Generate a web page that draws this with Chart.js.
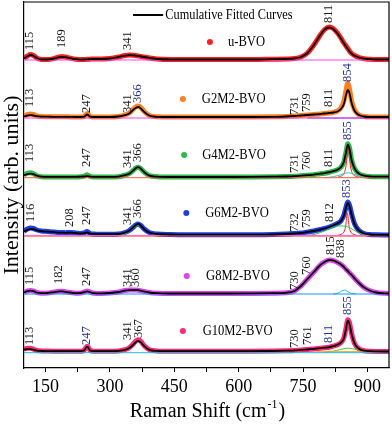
<!DOCTYPE html>
<html>
<head>
<meta charset="utf-8">
<script src="https://cdn.jsdelivr.net/npm/chart.js@4.4.1/dist/chart.umd.min.js"></script>
<style>
  html, body { margin: 0; padding: 0; background: #fff; }
  canvas { display: block; }
</style>
</head>
<body>
<canvas id="raman" width="392" height="424"></canvas>
<script>
// Raman shift grid (cm-1) shared by every spectrum
const ramanShift = [100, 108, 115, 122, 130, 140, 155, 170, 182, 189, 196, 208, 220, 232, 240, 247, 254, 262, 280, 300,
  320, 335, 345, 355, 360, 366, 372, 380, 392, 410, 440, 480, 530, 580, 630, 680, 710, 730, 745, 760,
  775, 790, 800, 811, 820, 830, 838, 845, 850, 854, 858, 863, 870, 880, 892, 905, 920, 950];

// measured intensities (arb. units, above each baseline)
const uBVO = [1.5, 4, 5.5, 4.5, 2, 0.5, 0.5, 1.5, 3, 3.5, 3, 1.8, 0.8, 0.4, 0.5, 0.7, 0.8, 1, 1, 1.5,
  3, 4.5, 5, 4.8, 4.5, 4, 3.5, 3, 2, 1, 0.5, 0.5, 0.5, 0.5, 0.5, 0.8, 1, 1.5, 3, 7,
  15, 25, 30.5, 33, 31.5, 27, 22, 17, 14, 11.5, 9, 6.5, 4.5, 2.5, 1.3, 0.8, 0.5, 0.5];
const g2m2 = [2, 3.5, 4, 3.5, 2, 1.5, 1.3, 1.2, 1.2, 1.2, 1.2, 1.1, 1, 1, 1.5, 4.5, 1.5, 1, 1, 1,
  1.5, 3, 5, 9, 11, 12, 10.5, 6.5, 2.5, 1.2, 1, 1, 1, 1, 1, 1.2, 1.5, 2, 2.5, 3,
  3.5, 4, 4.5, 5, 5.5, 7, 10, 17, 28, 35, 29, 17, 8, 3, 1.5, 1, 1, 1];
const g4m2 = [3, 4.5, 5, 4, 2, 1, 0.8, 0.8, 0.8, 0.8, 0.8, 0.8, 0.8, 1, 1.5, 3, 1.2, 0.8, 0.8, 0.8,
  1, 2.5, 4, 7.5, 9.5, 10.5, 9, 5.5, 2, 1, 0.7, 0.7, 0.7, 0.7, 0.8, 1, 1.2, 1.5, 2, 2.5,
  3, 4, 4.5, 5.5, 6.5, 8, 10.5, 16, 26, 34, 30, 18, 9, 4, 2, 1.2, 1, 1];
const g6m2 = [5, 7, 8, 7.5, 6, 5, 4.5, 4, 3.5, 3.5, 3.3, 3.5, 3, 2.5, 3, 4.5, 2.5, 2, 1.8, 1.8,
  2, 3.5, 5.5, 9, 11, 12, 10.5, 7, 3.5, 2, 1.5, 1.3, 1.3, 1.3, 1.3, 1.5, 2, 2.5, 3, 4,
  5, 6.5, 7.5, 9, 10.5, 12.5, 15, 21, 29, 34, 31, 22, 12, 5.5, 2.5, 1.5, 1.2, 1];
const g8m2 = [1.5, 3, 3.5, 3, 1.5, 0.8, 1, 2, 2.8, 2.8, 2.3, 1.5, 0.8, 1, 2, 3, 2, 0.8, 0.6, 1,
  2, 3.5, 4, 4, 4, 3.8, 3.3, 2.5, 1.5, 0.8, 0.5, 0.5, 0.5, 0.5, 0.6, 0.8, 1.2, 3, 8, 15,
  22, 29, 32, 34, 33.5, 31.5, 29.5, 27, 24.5, 23, 21, 19, 15.5, 11, 6.5, 3.5, 1.5, 0.5];
const g10m2 = [3.5, 4.5, 4.5, 3.5, 2.2, 1.8, 1.6, 1.5, 1.5, 1.5, 1.5, 1.5, 1.5, 1.5, 2.5, 6.5, 2.5, 1.5, 1.5, 1.5,
  1.8, 3, 5, 9, 11.5, 13, 11.5, 7, 3, 1.8, 1.5, 1.5, 1.5, 1.5, 1.5, 1.7, 2, 2.3, 2.8, 3.2,
  3.8, 4.5, 5, 5.5, 6.5, 8, 10, 15, 25, 33, 30, 19, 9, 4, 2, 1.5, 1.3, 1.2];

// cumulative fitted curves
const uBVOFit = [1.5, 3.8, 5, 4.2, 2, 0.5, 0.5, 1.5, 2.8, 3.2, 2.8, 1.8, 0.8, 0.4, 0.5, 0.7, 0.8, 1, 1, 1.5,
  3, 4.3, 4.8, 4.7, 4.4, 4, 3.5, 3, 2, 1, 0.5, 0.5, 0.5, 0.5, 0.5, 0.8, 1, 1.5, 3, 7,
  15, 25, 30.5, 32.5, 31, 26.5, 21.5, 16.5, 13.5, 11, 8.5, 6.3, 4.3, 2.4, 1.3, 0.8, 0.5, 0.5];
const g2m2Fit = [1.5, 2.5, 2.8, 2.5, 1.8, 1.4, 1.3, 1.2, 1.2, 1.2, 1.2, 1.1, 1, 1, 1.3, 3.5, 1.3, 1, 1, 1,
  1.5, 2.8, 4.5, 8.5, 10, 11, 9.5, 6, 2.3, 1.2, 1, 1, 1, 1, 1, 1.2, 1.5, 2, 2.5, 3,
  3.5, 4, 4.5, 5, 5.5, 6.5, 9, 14, 23, 28, 25, 15, 7, 3, 1.5, 1, 1, 1];
const g4m2Fit = [2.5, 3.5, 4, 3.5, 2, 1, 0.8, 0.8, 0.8, 0.8, 0.8, 0.8, 0.8, 1, 1.2, 1.5, 1.1, 0.8, 0.8, 0.8,
  1, 2.5, 4, 7.5, 9.5, 10.5, 9, 5.5, 2, 1, 0.7, 0.7, 0.7, 0.7, 0.8, 1, 1.2, 1.5, 2, 2.5,
  3, 4, 4.5, 5.5, 6.5, 8, 10.5, 16, 25.5, 33, 29, 17.5, 9, 4, 2, 1.2, 1, 1];
const g6m2Fit = [4.5, 6.2, 7, 6.8, 5.6, 4.8, 4.3, 3.8, 3.4, 3.4, 3.2, 3.3, 2.9, 2.5, 2.8, 3.5, 2.4, 2, 1.8, 1.8,
  2, 3.4, 5.3, 8.8, 10.8, 12, 10.3, 6.8, 3.4, 2, 1.5, 1.3, 1.3, 1.3, 1.3, 1.5, 2, 2.5, 3, 4,
  5, 6.5, 7.5, 9, 10.5, 12.5, 15, 20.5, 28.5, 33, 30, 21.5, 11.5, 5.5, 2.5, 1.5, 1.2, 1];
const g8m2Fit = [1.5, 2.8, 3.3, 2.8, 1.5, 0.8, 1, 1.9, 2.6, 2.7, 2.2, 1.5, 0.8, 1, 1.8, 2.6, 1.8, 0.8, 0.6, 1,
  2, 3.4, 3.9, 4, 4, 3.8, 3.3, 2.5, 1.5, 0.8, 0.5, 0.5, 0.5, 0.5, 0.6, 0.8, 1.2, 3, 8, 15,
  22, 29, 32, 34, 33.5, 31.5, 29.5, 27, 24.5, 23, 21, 19, 15.5, 11, 6.5, 3.5, 1.5, 0.5];
const g10m2Fit = [3, 3.5, 3.5, 3, 2, 1.7, 1.6, 1.5, 1.5, 1.5, 1.5, 1.5, 1.5, 1.5, 2.2, 6, 2.2, 1.5, 1.5, 1.5,
  1.8, 2.8, 4.6, 8.2, 10.5, 11.7, 10.3, 6.5, 2.8, 1.8, 1.5, 1.5, 1.5, 1.5, 1.5, 1.7, 2, 2.3, 2.8, 3.2,
  3.8, 4.5, 5, 5.5, 6.5, 8, 10, 14.5, 24, 32, 29, 18.5, 9, 4, 2, 1.5, 1.3, 1.2];

const sampleNames = ['u-BVO', 'G2M2-BVO', 'G4M2-BVO', 'G6M2-BVO', 'G8M2-BVO', 'G10M2-BVO'];
const measured = [uBVO, g2m2, g4m2, g6m2, g8m2, g10m2];
const fitted = [uBVOFit, g2m2Fit, g4m2Fit, g6m2Fit, g8m2Fit, g10m2Fit];
const sampleColors = ['#ff2020', '#ff8024', '#2fb84c', '#1f3fdd', '#dc46ee', '#ff2a7c'];
// vertical stacking offset of each spectrum
const offsets = [308, 250, 190.3, 132, 74, 15.3];

// fitted component peaks (x in cm-1, y above baseline)
const components = [
  // sample index, colour, x, y
  [0, '#ff44ff', [100, 950], [0, 0]],
  [1, '#ff44dd', [100, 950], [0, 0]],
  [1, '#2a3cff', [760, 950], [0, 0]],
  [2, '#ff5a3c', [100, 950], [0, 0]],
  [2, '#2ec8d0', [800, 820, 835, 845, 855, 865, 875, 890, 910], [0, 1, 2.5, 4, 5, 4, 2.5, 1, 0]],
  [2, '#ff2020', [830, 840, 846, 850, 855, 860, 864, 870, 880], [0.5, 2, 5, 12, 29, 12, 5, 2, 0.5]],
  [3, '#ff66cc', [100, 950], [0.6, 0.6]],
  [3, '#ff2a2a', [100, 950], [0, 0]],
  [3, '#33cc44', [320, 340, 355, 366, 377, 392, 410], [0.5, 3, 8, 10.5, 8, 3, 0.5]],
  [3, '#33cc44', [760, 780, 800, 815, 830, 845, 860, 875, 890, 910], [0.5, 2, 5, 8, 10, 10, 8, 4, 1.5, 0.5]],
  [3, '#ff2020', [830, 840, 845, 849, 853, 857, 861, 866, 876], [0.5, 2, 4, 10, 23, 10, 4, 2, 0.5]],
  [4, '#1e8fff', [100, 950], [0, 0]],
  [4, '#22c4d4', [820, 832, 840, 846, 852, 860, 872], [0, 1, 3, 4, 3, 1, 0]],
  [5, '#20b8d8', [100, 950], [0, 0]],
  [5, '#ff9a1a', [780, 950], [1, 1]],
  [5, '#33cc33', [800, 820, 835, 845, 855, 865, 875, 890, 905], [0.5, 1.5, 3, 4, 4.5, 4, 3, 1.5, 0.5]]
];

// peak labels (cm-1) per spectrum
const peakLabels = [
  ['115', '189', '341', '811'],
  ['113', '247', '341', '366', '731', '759', '811', '854'],
  ['113', '247', '341', '366', '731', '760', '811', '855'],
  ['116', '208', '247', '341', '366', '732', '759', '812', '853'],
  ['115', '182', '247', '341', '360', '730', '760', '815', '838'],
  ['113', '247', '341', '367', '730', '761', '811', '855']
];
// where each label's bottom sits (intensity units)
const labelLevels = [
  [318, 320, 318, 345],
  [261, 255, 255, 265, 253, 256, 261, 286],
  [206, 201, 200, 206, 195, 198, 201, 228],
  [146, 141, 143, 143, 150, 136, 140, 146, 170],
  [83, 84, 82, 81, 81, 78, 93, 113, 110],
  [23, 23, 28, 30, 20, 23, 25, 53]
];
const blueLabels = ['1-366', '1-854', '2-855', '3-853', '5-247', '5-811', '5-855'];

function toPoints(xs, ys, off) {
  return xs.map((x, i) => ({ x: x, y: ys[i] + off }));
}

const datasets = [];
measured.forEach((s, k) => {
  datasets.push({
    data: toPoints(ramanShift, fitted[k], offsets[k]),
    borderColor: '#000', borderWidth: 1.8, order: 0
  });
});
components.forEach(c => {
  datasets.push({
    data: toPoints(c[2], c[3], offsets[c[0]]),
    borderColor: c[1], borderWidth: 1, order: 1
  });
});
measured.forEach((s, k) => {
  datasets.push({
    data: toPoints(ramanShift, s, offsets[k]),
    borderColor: sampleColors[k], borderWidth: 5, order: 2
  });
});

const SERIF = '"Liberation Serif", "Times New Roman", serif';

function squeezedText(ctx, txt, px, py, size, sx) {
  ctx.save();
  ctx.translate(px, py);
  ctx.scale(sx, 1);
  ctx.font = size + 'px ' + SERIF;
  ctx.fillText(txt, 0, 0);
  ctx.restore();
}

const overlay = {
  id: 'overlay',
  afterDraw(chart) {
    const { ctx, chartArea: a } = chart;
    const x = chart.scales.x, y = chart.scales.y;
    ctx.save();

    // top and right frame
    ctx.strokeStyle = '#000';
    ctx.lineWidth = 1.2;
    ctx.beginPath();
    ctx.moveTo(a.left, a.top);
    ctx.lineTo(a.right, a.top);
    ctx.lineTo(a.right, a.bottom);
    ctx.stroke();

    // legend
    ctx.lineWidth = 2;
    ctx.beginPath();
    ctx.moveTo(x.getPixelForValue(354), y.getPixelForValue(353));
    ctx.lineTo(x.getPixelForValue(424), y.getPixelForValue(353));
    ctx.stroke();
    ctx.fillStyle = '#000';
    ctx.textBaseline = 'middle';
    ctx.textAlign = 'left';
    squeezedText(ctx, 'Cumulative Fitted Curves', x.getPixelForValue(429), y.getPixelForValue(353), 14, 0.88);

    // sample names
    const dotX = [533, 470, 473, 478, 479, 470];
    const nameX = [575, 514, 515, 522, 524, 516];
    const nameY = [326, 269, 213, 155, 92, 37];
    sampleNames.forEach((n, k) => {
      ctx.fillStyle = sampleColors[k];
      ctx.beginPath();
      ctx.arc(x.getPixelForValue(dotX[k]), y.getPixelForValue(nameY[k]), 3, 0, Math.PI * 2);
      ctx.fill();
      ctx.fillStyle = '#000';
      squeezedText(ctx, n, x.getPixelForValue(nameX[k]), y.getPixelForValue(nameY[k]), 14, 0.9);
    });

    // rotated peak labels
    peakLabels.forEach((labels, k) => {
      labels.forEach((t, i) => {
        ctx.save();
        ctx.translate(x.getPixelForValue(Number(t)), y.getPixelForValue(labelLevels[k][i]));
        ctx.rotate(-Math.PI / 2);
        ctx.scale(1, 0.92);
        ctx.font = '12.5px ' + SERIF;
        ctx.fillStyle = blueLabels.includes(k + '-' + t) ? '#22309a' : '#1a1a1a';
        ctx.textAlign = 'left';
        ctx.textBaseline = 'middle';
        ctx.fillText(t, 0, 0);
        ctx.restore();
      });
    });

    // axis titles
    ctx.fillStyle = '#000';
    ctx.textBaseline = 'alphabetic';
    ctx.font = '20px ' + SERIF;
    const main = 'Raman Shift (cm';
    ctx.font = '20px ' + SERIF;
    const wMain = ctx.measureText(main).width;
    ctx.font = '12px ' + SERIF;
    const wSup = ctx.measureText('-1').width;
    ctx.font = '20px ' + SERIF;
    const wEnd = ctx.measureText(')').width;
    let tx = (a.left + a.right) / 2 - (wMain + wSup + wEnd) / 2;
    ctx.fillText(main, tx, 417);
    ctx.font = '12px ' + SERIF;
    ctx.fillText('-1', tx + wMain + 1, 408);
    ctx.font = '20px ' + SERIF;
    ctx.fillText(')', tx + wMain + wSup + 2, 417);

    ctx.save();
    ctx.translate(18, 185);
    ctx.rotate(-Math.PI / 2);
    ctx.textAlign = 'center';
    ctx.font = '22px ' + SERIF;
    ctx.fillText('Intensity (arb. units)', 0, 0);
    ctx.restore();

    ctx.restore();
  }
};

new Chart(document.getElementById('raman').getContext('2d'), {
  type: 'line',
  data: { datasets: datasets },
  options: {
    responsive: false,
    animation: false,
    layout: { padding: { top: 2, right: 3, left: 0, bottom: 0 } },
    elements: {
      point: { radius: 0 },
      line: { cubicInterpolationMode: 'monotone', fill: false }
    },
    plugins: {
      legend: { display: false },
      tooltip: { enabled: false }
    },
    scales: {
      x: {
        type: 'linear',
        min: 100,
        max: 950,
        afterFit: s => { s.height = 56; },
        ticks: {
          stepSize: 75,
          includeBounds: false,
          autoSkip: false,
          maxRotation: 0,
          padding: 4,
          color: '#000',
          font: { family: SERIF, size: 18 },
          callback: v => (v % 150 === 0 ? v : '')
        },
        grid: { drawOnChartArea: false, tickLength: 4, color: '#000', lineWidth: 1 },
        border: { color: '#000', width: 1.2 }
      },
      y: {
        min: 0,
        max: 366,
        afterFit: s => { s.width = 24; },
        ticks: { display: false },
        grid: { drawOnChartArea: false, drawTicks: false },
        border: { color: '#000', width: 1.2 }
      }
    }
  },
  plugins: [overlay]
});
</script>
</body>
</html>
